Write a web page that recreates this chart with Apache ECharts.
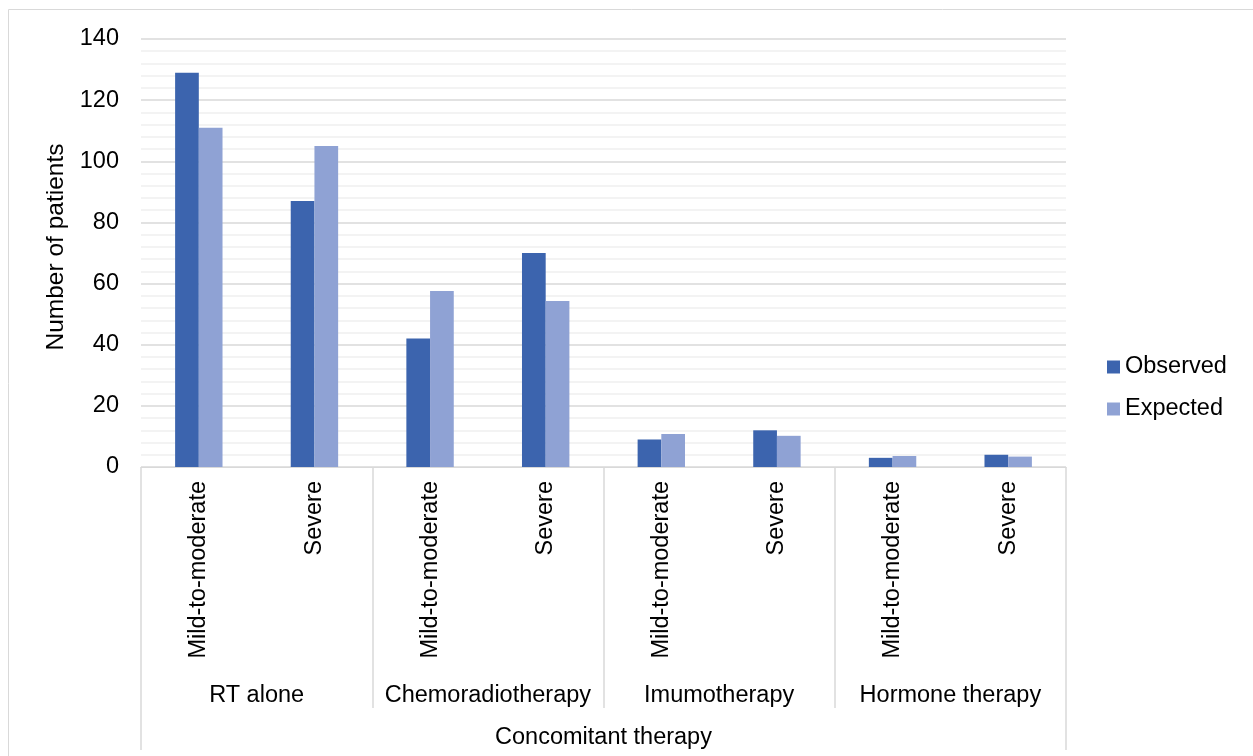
<!DOCTYPE html>
<html>
<head>
<meta charset="utf-8">
<script src="https://cdn.jsdelivr.net/npm/echarts@6/dist/echarts.min.js"></script>
<style>html,body{margin:0;padding:0;background:#fff}#c{width:1253px;height:756px}</style>
</head>
<body>
<div id="c"></div>
<script>
var severity = ['Mild-to-moderate','Severe','Mild-to-moderate','Severe','Mild-to-moderate','Severe','Mild-to-moderate','Severe'];
var therapies = ['RT alone','Chemoradiotherapy','Imumotherapy','Hormone therapy'];
var outerLabel = ['Concomitant therapy'];
var observed = [129, 87, 42, 70, 9, 12, 3, 4];
var expected = [111, 105, 57.6, 54.3, 10.8, 10.2, 3.6, 3.4];
var yTicks = [0, 140, 20];

var FONT = 'Liberation Sans, Arial, sans-serif';
var chart = echarts.init(document.getElementById('c'));
chart.setOption({
  animation: false,
  textStyle: {fontFamily: FONT},
  graphic: [{type:'rect', shape:{x:8.5,y:9.5,width:1260,height:760}, style:{fill:'none',stroke:'#d9d9d9',lineWidth:1}, silent:true}],
  grid: {left:141, right:187, top:39, bottom:289},
  legend: {
    orient:'vertical', left:1102, top:350, itemWidth:13, itemHeight:13, itemGap:18,
    icon:'rect', textStyle:{fontSize:23.5, color:'#000', fontFamily:FONT},
    data:['Observed','Expected']
  },
  xAxis: [
    {type:'category', position:'bottom', data:severity,
     axisLine:{show:true, lineStyle:{color:'#d9d9d9', width:1}},
     axisTick:{show:false},
     axisLabel:{interval:0, rotate:90, margin:14, fontSize:23.5, color:'#000', fontFamily:FONT}},
    {type:'category', position:'bottom', data:therapies,
     axisLine:{show:false},
     axisTick:{show:true, length:241, lineStyle:{color:'#d9d9d9', width:1.5}},
     axisLabel:{interval:0, margin:217, fontSize:23.5, color:'#000', fontFamily:FONT}},
    {type:'category', position:'bottom', data:outerLabel,
     axisLine:{show:false},
     axisTick:{show:true, length:283, lineStyle:{color:'#d9d9d9', width:1.5}},
     axisLabel:{interval:0, margin:259, fontSize:23.5, color:'#000', fontFamily:FONT}}
  ],
  yAxis: {
    type:'value', min:yTicks[0], max:yTicks[1], interval:yTicks[2],
    name:'Number of patients', nameLocation:'middle', nameGap:68, nameRotate:90,
    nameTextStyle:{fontSize:24.5, color:'#000', fontFamily:FONT, padding:[0,0,0,12]},
    axisLine:{show:false}, axisTick:{show:false},
    axisLabel:{margin:22, fontSize:23.5, color:'#000', fontFamily:FONT, padding:[5,0,0,0]},
    splitLine:{show:true, lineStyle:{color:'#d9d9d9', width:1.5}},
    minorTick:{show:false, splitNumber:5},
    minorSplitLine:{show:true, lineStyle:{color:'#f0f0f0', width:1.5}}
  },
  series: [
    {name:'Observed', type:'bar', xAxisIndex:0, data:observed, barGap:'0%', barCategoryGap:'59%',
     itemStyle:{color:'#3c64ae'}},
    {name:'Expected', type:'bar', xAxisIndex:0, data:expected, barGap:'0%', barCategoryGap:'59%',
     itemStyle:{color:'#8fa2d4'}}
  ]
});
</script>
</body>
</html>
